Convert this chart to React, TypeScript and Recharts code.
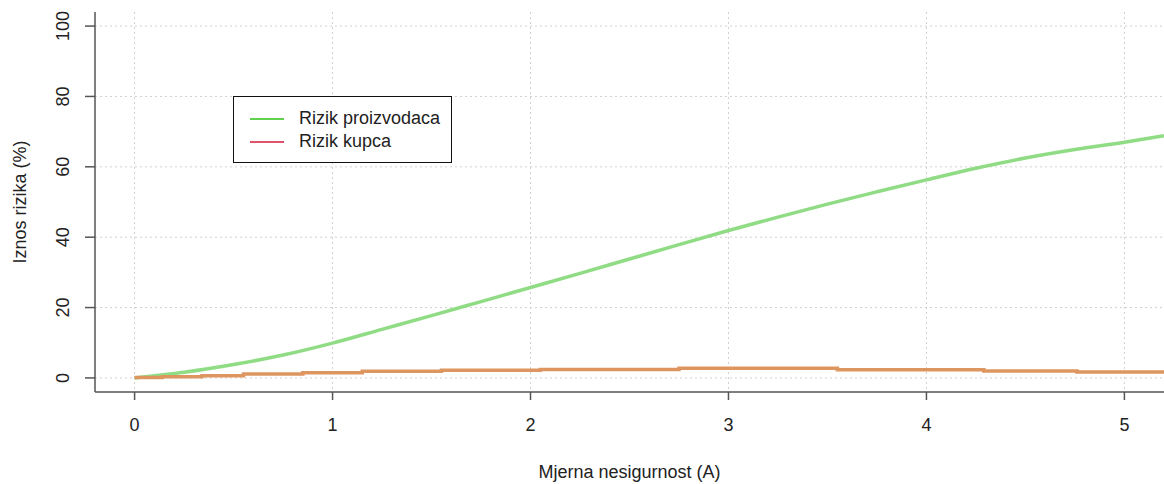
import { LineChart, Line, XAxis, YAxis, CartesianGrid } from "recharts";

// Rizik proizvodaca (green curve)
const proizvodacX = [0, 0.25, 0.5, 0.75, 1, 1.25, 1.5, 1.75, 2, 2.25, 2.5, 2.75, 3, 3.25, 3.5, 3.75, 4, 4.25, 4.5, 4.75, 5, 5.2];
const proizvodacY = [0, 1.6, 3.8, 6.5, 9.9, 13.8, 17.7, 21.7, 25.7, 29.7, 33.8, 37.9, 41.9, 45.7, 49.4, 52.9, 56.3, 59.6, 62.5, 64.9, 67.0, 68.8];

// Rizik kupca (orange step line)
const kupacX = [0, 0.14, 0.34, 0.55, 0.85, 1.15, 1.55, 2.05, 2.75, 3.55, 4.29, 4.76, 5.2];
const kupacY = [0.1, 0.3, 0.65, 1.1, 1.5, 1.9, 2.2, 2.4, 2.75, 2.35, 2.0, 1.7, 1.7];

const xTicks = [0, 1, 2, 3, 4, 5];
const yTicks = [0, 20, 40, 60, 80, 100];

const legendLabels = ["Rizik proizvodaca", "Rizik kupca"];
const legendColors = ["#61D04F", "#DF536B"];

const proizvodacData = proizvodacX.map((x, i) => ({ x, y: proizvodacY[i] }));
const kupacData = kupacX.map((x, i) => ({ x, y: kupacY[i] }));

const FONT = "'Liberation Sans', Arial, sans-serif";
const TEXT = "#222";
const AXIS = "#555";
const FS = 18;

function XTick(props: any) {
  const { x, y, payload } = props;
  return (
    <text x={x} y={y + 29} textAnchor="middle" fontSize={FS} fontFamily={FONT} fill={TEXT}>
      {payload.value}
    </text>
  );
}

function YTick(props: any) {
  const { y, payload } = props;
  const tx = 69;
  return (
    <text
      x={tx}
      y={y}
      transform={`rotate(-90, ${tx}, ${y})`}
      textAnchor="middle"
      fontSize={FS}
      fontFamily={FONT}
      fill={TEXT}
    >
      {payload.value}
    </text>
  );
}

function LegendBox() {
  return (
    <div
      style={{
        position: "absolute",
        left: 233,
        top: 96,
        border: "1px solid #111",
        background: "#fff",
        width: 219,
        height: 67,
        boxSizing: "border-box",
        padding: "10px 0 0 16px",
        fontFamily: FONT,
        fontSize: FS,
        color: TEXT,
      }}
    >
      {legendLabels.map((label, i) => (
        <div key={label} style={{ display: "flex", alignItems: "center", height: 23 }}>
          <span
            style={{ display: "inline-block", width: 34, height: 2, background: legendColors[i], marginRight: 15 }}
          />
          <span>{label}</span>
        </div>
      ))}
    </div>
  );
}

export default function App() {
  return (
    <div style={{ position: "absolute", left: 0, top: 0, width: 1164, height: 484, background: "#fff" }}>
      <LineChart width={1164} height={484} margin={{ top: 12, right: 0, bottom: 0, left: 0 }}>
        <CartesianGrid
          stroke="#d0d0d0"
          strokeDasharray="2 3"
          verticalValues={xTicks}
          horizontalValues={yTicks}
        />
        <XAxis
          type="number"
          dataKey="x"
          domain={[-0.2, 5.2]}
          ticks={xTicks}
          allowDataOverflow
          height={92}
          axisLine={{ stroke: AXIS, strokeWidth: 1.5 }}
          tickLine={{ stroke: AXIS, strokeWidth: 1.5 }}
          tickSize={8}
          tick={<XTick />}
          label={{
            value: "Mjerna nesigurnost (A)",
            position: "insideBottom",
            offset: 6,
            style: { fontSize: FS, fontFamily: FONT, fill: TEXT },
          }}
        />
        <YAxis
          type="number"
          dataKey="y"
          domain={[-4, 104]}
          ticks={yTicks}
          allowDataOverflow
          width={95}
          axisLine={{ stroke: AXIS, strokeWidth: 1.5 }}
          tickLine={{ stroke: AXIS, strokeWidth: 1.5 }}
          tickSize={10}
          tick={<YTick />}
          label={{
            value: "Iznos rizika (%)",
            angle: -90,
            position: "insideLeft",
            offset: 20,
            style: { fontSize: FS, fontFamily: FONT, fill: TEXT, textAnchor: "middle" },
          }}
        />
        <Line
          data={proizvodacData}
          dataKey="y"
          type="monotone"
          stroke="#90dc85"
          strokeWidth={3.5}
          dot={false}
          activeDot={false}
          isAnimationActive={false}
        />
        <Line
          data={kupacData}
          dataKey="y"
          type="stepAfter"
          stroke="#de9660"
          strokeWidth={3.5}
          dot={false}
          activeDot={false}
          isAnimationActive={false}
        />
      </LineChart>
      <LegendBox />
    </div>
  );
}
